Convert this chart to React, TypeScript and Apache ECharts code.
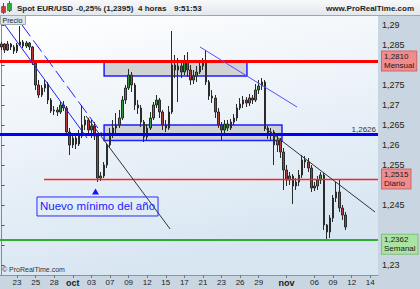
import React, { useEffect, useRef } from "react";
import * as echarts from "echarts";

// ---- price data (4h-ish candles) ----
const firstOpen = 1.2845;
const closes = [
  1.28525, 1.28375, 1.28525, 1.2845, 1.2835, 1.285, 1.28575, 1.28475, 1.2855, 1.2845,
  1.2805, 1.275, 1.2725, 1.27425, 1.27525, 1.27125, 1.2685, 1.26875, 1.26825, 1.27,
  1.26925, 1.26325, 1.26, 1.26175, 1.26025, 1.26225, 1.265, 1.26625, 1.26375, 1.26475,
  1.26225, 1.25175, 1.25225, 1.255, 1.26, 1.263, 1.26425, 1.265, 1.26675, 1.27125,
  1.27425, 1.2775, 1.275, 1.27, 1.26925, 1.26575, 1.262, 1.26425, 1.26675, 1.27,
  1.27125, 1.26825, 1.265, 1.26425, 1.26825, 1.28, 1.27875, 1.27975, 1.27825, 1.28075,
  1.27875, 1.27625, 1.27725, 1.27825, 1.27975, 1.28075, 1.27575, 1.27225, 1.27175, 1.26825,
  1.265, 1.26375, 1.26525, 1.26425, 1.26575, 1.26675, 1.26925, 1.27025, 1.27125, 1.2705,
  1.27175, 1.27125, 1.27375, 1.27475, 1.27575, 1.26425, 1.26275, 1.26325, 1.26, 1.26125,
  1.25825, 1.25375, 1.25125, 1.25225, 1.24975, 1.25075, 1.2525, 1.25625, 1.25575, 1.25425,
  1.24925, 1.24975, 1.25125, 1.2525, 1.24, 1.23825, 1.24175, 1.24675, 1.24825, 1.24425,
  1.2425, 1.2395,
];
const highs = [
  1.28575, 1.2855, 1.286, 1.2855, 1.285, 1.2855, 1.28975, 1.28625, 1.286, 1.28575,
  1.28475, 1.28075, 1.27625, 1.275, 1.27625, 1.27575, 1.27175, 1.26975, 1.2695, 1.27075,
  1.271, 1.26975, 1.26425, 1.263, 1.26275, 1.26375, 1.27, 1.26725, 1.26675, 1.26625,
  1.26575, 1.263, 1.25325, 1.25575, 1.2605, 1.26425, 1.26625, 1.268, 1.26875, 1.27225,
  1.275, 1.279, 1.27825, 1.2755, 1.27125, 1.27, 1.26625, 1.26525, 1.26825, 1.27075,
  1.2725, 1.27175, 1.26875, 1.26625, 1.26975, 1.2885, 1.2825, 1.28175, 1.28075, 1.2825,
  1.28325, 1.28, 1.27875, 1.27975, 1.28125, 1.28175, 1.28375, 1.27625, 1.27375, 1.2725,
  1.26925, 1.26575, 1.26625, 1.26625, 1.2665, 1.26775, 1.27025, 1.27175, 1.27225, 1.272,
  1.27275, 1.2725, 1.27525, 1.27625, 1.27675, 1.27625, 1.26475, 1.26425, 1.26375, 1.26225,
  1.26175, 1.25925, 1.255, 1.25325, 1.25275, 1.25175, 1.25375, 1.2575, 1.25725, 1.25675,
  1.255, 1.25075, 1.25225, 1.25325, 1.253, 1.24025, 1.2425, 1.2475, 1.25075, 1.25125,
  1.245, 1.24325,
];
const lows = [
  1.28375, 1.283, 1.2835, 1.28375, 1.28275, 1.283, 1.28475, 1.28425, 1.28425, 1.28375,
  1.28, 1.27375, 1.27175, 1.272, 1.27325, 1.27025, 1.268, 1.2675, 1.26725, 1.26775,
  1.2685, 1.2625, 1.2575, 1.25925, 1.259, 1.25975, 1.26175, 1.26375, 1.26275, 1.26175,
  1.26125, 1.25075, 1.251, 1.25175, 1.25425, 1.25925, 1.26175, 1.26275, 1.26425, 1.26625,
  1.27025, 1.27375, 1.27325, 1.26875, 1.26775, 1.2645, 1.26075, 1.26125, 1.26375, 1.26625,
  1.26925, 1.26675, 1.26375, 1.26325, 1.26375, 1.26775, 1.27675, 1.27075, 1.27675, 1.2775,
  1.277, 1.275, 1.27525, 1.27575, 1.27775, 1.27875, 1.275, 1.27125, 1.2705, 1.26675,
  1.26425, 1.26125, 1.263, 1.2635, 1.26375, 1.265, 1.266, 1.26875, 1.26925, 1.2695,
  1.26975, 1.27025, 1.27075, 1.27275, 1.27375, 1.2635, 1.2615, 1.26125, 1.255, 1.25825,
  1.25675, 1.24875, 1.24975, 1.25, 1.24525, 1.24875, 1.24975, 1.25175, 1.25425, 1.25325,
  1.24825, 1.2485, 1.24875, 1.25025, 1.23875, 1.23625, 1.23675, 1.24075, 1.24575, 1.24325,
  1.24125, 1.23875,
];

const categoryCount = 122;
const dayLabels: [number, string][] = [
  [5, "23"], [11, "25"], [17, "28"], [23, "oct"], [29, "03"], [35, "07"], [41, "09"],
  [47, "12"], [53, "15"], [59, "17"], [65, "21"], [71, "23"], [77, "26"], [83, "29"],
  [92, "nov"], [101, "06"], [107, "09"], [113, "12"], [119, "14"],
];
const yTicks = [1.23, 1.235, 1.24, 1.245, 1.25, 1.255, 1.26, 1.265, 1.27, 1.275, 1.28, 1.285, 1.29];
// labels hidden behind the price tags in the reference: 1,235 1,24 1,25 1,28
const yLabels = [1.23, 1.245, 1.255, 1.26, 1.265, 1.27, 1.275, 1.285, 1.29];
const yMin = 1.2275;
const yMax = 1.29225;

// ---- levels and drawings (candle index / price) ----
const levelMensual = 1.281;
const levelBlue = 1.2626;
const levelDiario = 1.2515;
const levelSemanal = 1.2362;
const lastPrice = 1.2395;
const diarioStart = 13.7;
const zones = [
  [33.1, 1.281, 79.2, 1.27725],
  [33.1, 1.265, 90.5, 1.2611],
];
const trendBlue = [[0.15, 1.291], [27.6, 1.26175]];
const trendBlueDashed = [[6.6, 1.29], [32.75, 1.2625]];
const trendBlueUpper = [[64.06, 1.2845], [95.37, 1.2695]];
const trendBlackLeft = [[27.26, 1.26725], [54.4, 1.239]];
const trendBlackRight = [[85.0, 1.26425], [120.55, 1.24325]];
const lowMarker = [30.33, 1.24838];
const noteAnchor = [30.97, 1.24463];

const FONT = "'Liberation Sans', Arial, sans-serif";

export default function App() {
  const ref = useRef<HTMLDivElement>(null);
  useEffect(() => {
    const chart = echarts.init(ref.current!, null, { renderer: "svg" });
    const ohlc = closes.map((c, i) => [i === 0 ? firstOpen : closes[i - 1], c, lows[i], highs[i]]);
    const categories = Array.from({ length: categoryCount }, (_, i) => String(i));
    const labelMap = new Map(dayLabels);
    const fmt = (v: number) => String(parseFloat(v.toFixed(4))).replace(".", ",");
    const tag = (text: string, bg: string, border: string, extra: any = {}) => ({
      show: true,
      position: "end",
      distance: 4,
      formatter: text,
      backgroundColor: bg,
      borderColor: border,
      borderWidth: 1,
      padding: [1, 2, 0, 2],
      color: "#1a1a1a",
      fontSize: 8,
      lineHeight: 9,
      fontFamily: FONT,
      ...extra,
    });
    const hLine = (value: number, color: string, width: number, label: any = { show: false }, x0 = -0.5) => [
      { coord: [x0, value], lineStyle: { color, width, type: "solid", opacity: 1 }, label },
      { coord: [121.5, value] },
    ];
    const seg = (pts: number[][], color: string, width: number, type: any = "solid") => [
      { coord: pts[0], lineStyle: { color, width, type }, label: { show: false } },
      { coord: pts[1] },
    ];

    chart.setOption({
      animation: false,
      backgroundColor: "#c9d6e1",
      grid: {
        left: 0,
        right: 42,
        top: 16,
        bottom: 14,
        show: true,
        borderWidth: 0,
        backgroundColor: new echarts.graphic.LinearGradient(0, 0, 0.3, 1, [
          { offset: 0, color: "#ffffff" },
          { offset: 1, color: "#d8e6f2" },
        ]),
      },
      xAxis: [
        {
          type: "category",
          data: categories,
          boundaryGap: true,
          axisLine: { show: true, lineStyle: { color: "#8795a3" } },
          axisTick: {
            show: true,
            alignWithLabel: true,
            interval: (i: number) => labelMap.has(i),
            length: 3,
            lineStyle: { color: "#6b7a88" },
          },
          axisLabel: {
            interval: (i: number) => labelMap.has(i),
            formatter: (v: string) => {
              const s = labelMap.get(Number(v)) || "";
              return s === "oct" || s === "nov" ? `{b|${s}}` : s;
            },
            fontSize: 8,
            fontFamily: FONT,
            color: "#222",
            margin: 3,
            rich: { b: { fontWeight: "bold", fontSize: 9, fontFamily: FONT, color: "#222" } },
          },
          splitLine: { show: false },
        },
        { type: "value", min: -0.5, max: 121.5, show: false },
      ],
      yAxis: {
        type: "value",
        position: "right",
        min: yMin,
        max: yMax,
        axisLine: { show: true, lineStyle: { color: "#7d8c99" } },
        axisTick: { show: true, customValues: yTicks, length: 3, lineStyle: { color: "#555" } },
        axisLabel: {
          customValues: yLabels,
          formatter: (v: number) => fmt(v),
          fontSize: 9,
          fontFamily: FONT,
          color: "#222",
          margin: 4,
        },
        splitLine: { show: false },
      },
      graphic: [
        {
          type: "rect",
          shape: { x: 0, y: 0, width: 420, height: 15 },
          style: {
            fill: new echarts.graphic.LinearGradient(0, 0, 0, 1, [
              { offset: 0, color: "#f7f8fa" },
              { offset: 1, color: "#e3e8ed" },
            ]),
          },
          silent: true,
        },
        { type: "line", shape: { x1: 0, y1: 15.5, x2: 420, y2: 15.5 }, style: { stroke: "#9ba7b3", lineWidth: 1 } },
        { type: "line", shape: { x1: 3.5, y1: 3, x2: 3.5, y2: 14 }, style: { stroke: "#555", lineWidth: 1 } },
        { type: "rect", shape: { x: 1.5, y: 6.5, width: 4, height: 6 }, style: { fill: "#e03030", stroke: "#444", lineWidth: 0.6 } },
        { type: "line", shape: { x1: 9.5, y1: 1, x2: 9.5, y2: 12 }, style: { stroke: "#555", lineWidth: 1 } },
        { type: "rect", shape: { x: 7.5, y: 3.5, width: 4, height: 7 }, style: { fill: "#30b030", stroke: "#444", lineWidth: 0.6 } },
        ...[
          ["Spot EUR/USD", 17],
          ["-0,25% (1,2395)", 76],
          ["4 horas", 138],
          ["9:51:53", 174],
        ].map(([t, x]) => ({
          type: "text",
          style: {
            text: t,
            x,
            y: 8,
            font: `bold 8px ${FONT}`,
            fill: "#1e1e1e",
            textVerticalAlign: "middle",
            verticalAlign: "middle",
          },
        })),
        {
          type: "text",
          style: {
            text: "www.ProRealTime.com",
            x: 414,
            y: 8,
            font: `bold 8px ${FONT}`,
            fill: "#1e1e1e",
            textAlign: "right",
            align: "right",
            textVerticalAlign: "middle",
            verticalAlign: "middle",
          },
        },
        {
          type: "rect",
          shape: { x: 0.5, y: 15.5, width: 25, height: 9 },
          style: { fill: "#dfe5ea", stroke: "#a0abb5", lineWidth: 1 },
          z: 10,
        },
        {
          type: "text",
          style: { text: "Precio", x: 2.5, y: 20.5, font: `7px ${FONT}`, fill: "#222", textVerticalAlign: "middle", verticalAlign: "middle" },
          z: 11,
        },
        {
          type: "text",
          style: { text: "© ProRealTime.com", x: 2, y: 269.5, font: `7px ${FONT}`, fill: "#333", textVerticalAlign: "middle", verticalAlign: "middle" },
          z: 11,
        },
      ],
      series: [
        {
          type: "line",
          xAxisIndex: 1,
          yAxisIndex: 0,
          data: [],
          z: 1,
          clip: false,
          silent: true,
          markArea: {
            silent: true,
            itemStyle: { color: "rgba(204,206,208,0.9)", borderColor: "#1f1fff", borderWidth: 1.5 },
            data: zones.map(([x0, y0, x1, y1]) => [{ coord: [x0, y0] }, { coord: [x1, y1] }]),
          },
        },
        {
          type: "candlestick",
          xAxisIndex: 0,
          yAxisIndex: 0,
          data: ohlc,
          z: 2,
          barWidth: 2,
          itemStyle: {
            color: "#2e9a3a",
            color0: "#b23a3a",
            borderColor: "#2b2b2b",
            borderColor0: "#2b2b2b",
            borderWidth: 1,
          },
        },
        {
          type: "line",
          xAxisIndex: 1,
          yAxisIndex: 0,
          data: [],
          z: 3,
          clip: false,
          silent: true,
          markLine: {
            silent: true,
            symbol: ["none", "none"],
            animation: false,
            data: [
              hLine(levelMensual, "#ff0000", 3, tag("1,2810\nMensual", "#f28b8b", "#c96a6a")),
              hLine(levelBlue, "#0000ff", 3, {
                show: true,
                position: "insideEndTop",
                formatter: "1,2626",
                color: "#333",
                fontSize: 8,
                fontFamily: FONT,
                distance: [2, 1],
              }),
              hLine(levelDiario, "#ff2020", 1.3, tag("1,2515\nDiario", "#f28b8b", "#c96a6a"), diarioStart),
              hLine(levelSemanal, "#2eae2e", 2, tag("1,2362\nSemanal", "#abe3a3", "#7fbf7f", { offset: [0, 4] })),
              [
                { coord: [121, lastPrice], lineStyle: { width: 0, opacity: 0 }, label: tag("1,2395", "#f7c600", "#c8a000", { padding: [1, 2, 1, 2] }) },
                { coord: [121.5, lastPrice] },
              ],
              seg(trendBlue, "#2020ff", 1),
              seg(trendBlueDashed, "#2020ff", 1, [14, 5]),
              seg(trendBlueUpper, "#5050ff", 1),
              seg(trendBlackLeft, "#333333", 1),
              seg(trendBlackRight, "#333333", 1),
            ],
          },
          markPoint: {
            silent: true,
            animation: false,
            data: [
              { coord: lowMarker, symbol: "triangle", symbolSize: [7, 6], itemStyle: { color: "#1414ff" }, label: { show: false } },
              {
                coord: noteAnchor,
                symbol: "rect",
                symbolSize: 1,
                itemStyle: { color: "rgba(0,0,0,0)" },
                label: {
                  show: true,
                  position: "inside",
                  formatter: "Nuevo mínimo del año",
                  color: "#2323ff",
                  fontSize: 11.5,
                  fontFamily: FONT,
                  borderColor: "#2a2aff",
                  borderWidth: 1,
                  padding: [4, 3, 3, 3],
                },
              },
            ],
          },
        },
      ],
    });
    return () => chart.dispose();
  }, []);
  return <div ref={ref} style={{ position: "fixed", left: 0, top: 0, width: 420, height: 289 }} />;
}
